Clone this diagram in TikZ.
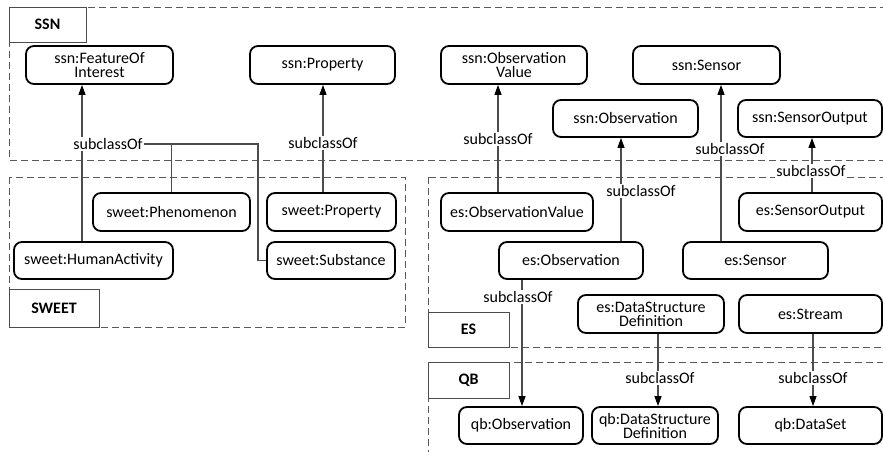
\documentclass[tikz,border=0pt]{standalone}
\usepackage{fontspec}
\setmainfont{Carlito}
\usetikzlibrary{arrows.meta}
\pgfdeclarelayer{back}
\pgfdeclarelayer{mid}
\pgfsetlayers{back,mid,main}

\begin{document}
\begin{tikzpicture}[x=1pt,y=-1pt,
  cls/.style={draw=black, line width=1.8pt, rounded corners=8pt, align=center,
    inner sep=0pt, font=\fontsize{16}{14}\selectfont},
  tag/.style={draw=black!70, line width=0.8pt, fill=white, inner sep=0pt,
    font=\fontsize{16}{19}\selectfont\bfseries},
  lbl/.style={fill=white, inner sep=1pt, font=\fontsize{16}{19}\selectfont},
  zone/.style={draw=black!65, line width=0.9pt, dash pattern=on 7pt off 4pt},
  sub/.style={draw=black!70, line width=1.1pt},
  subarr/.style={sub, -{Triangle[length=10pt,width=7pt,color=black]}},
]
\useasboundingbox (0,0) rectangle (883,452);
\clip (0,0) rectangle (883,452);

% ontology zones and their name tags
\begin{pgfonlayer}{back}
  \draw[zone] (9,7) rectangle (900,160);
  \draw[zone] (9,177) rectangle (405,327);
  \draw[zone] (428,177) rectangle (900,347);
  \draw[zone] (428,362) rectangle (900,470);
  \node[tag, minimum width=77pt, minimum height=35pt] (tssn) at (47.5,24.5) {SSN};
  \node[tag, minimum width=90pt, minimum height=38pt] (tsweet) at (54,308) {SWEET};
  \node[tag, minimum width=81pt, minimum height=35pt] (tes) at (468.5,329.5) {ES};
  \node[tag, minimum width=81pt, minimum height=36pt] (tqb) at (468.5,380) {QB};
\end{pgfonlayer}

% SSN classes
\node[cls, minimum width=147pt, minimum height=38pt] (fo) at (99.5,65) {ssn:FeatureOf\\Interest};
\node[cls, minimum width=145pt, minimum height=38pt] (sp) at (322.5,65) {ssn:Property};
\node[cls, minimum width=146pt, minimum height=38pt] (sov) at (514,65) {ssn:Observation\\Value};
\node[cls, minimum width=147pt, minimum height=38pt] (ssens) at (706.5,65) {ssn:Sensor};
\node[cls, minimum width=145pt, minimum height=37pt] (sobs) at (625.5,118.5) {ssn:Observation};
\node[cls, minimum width=144pt, minimum height=37pt] (sso) at (810,118.5) {ssn:SensorOutput};

% SWEET classes
\node[cls, minimum width=157pt, minimum height=38pt] (phen) at (171.5,212) {sweet:Phenomenon};
\node[cls, minimum width=129pt, minimum height=38pt] (swp) at (331.5,212) {sweet:Property};
\node[cls, minimum width=159pt, minimum height=37pt] (ha) at (93.5,260.5) {sweet:HumanActivity};
\node[cls, minimum width=128pt, minimum height=37pt] (subst) at (331,260.5) {sweet:Substance};

% ES classes
\node[cls, minimum width=152pt, minimum height=38pt] (eov) at (517,212) {es:ObservationValue};
\node[cls, minimum width=143pt, minimum height=38pt] (eso) at (810.5,212) {es:SensorOutput};
\node[cls, minimum width=144pt, minimum height=37pt] (eobs) at (571,260.5) {es:Observation};
\node[cls, minimum width=145pt, minimum height=37pt] (esens) at (755.5,260.5) {es:Sensor};
\node[cls, minimum width=146pt, minimum height=38pt] (edsd) at (651,314) {es:DataStructure\\Definition};
\node[cls, minimum width=143pt, minimum height=38pt] (estr) at (810.5,314) {es:Stream};

% QB classes
\node[cls, minimum width=124pt, minimum height=37pt] (qobs) at (521,425.5) {qb:Observation};
\node[cls, minimum width=126pt, minimum height=37pt] (qdsd) at (655,425.5) {qb:DataStructure\\Definition};
\node[cls, minimum width=143pt, minimum height=37pt] (qds) at (810.5,425.5) {qb:DataSet};

% subclassOf labels
\node[lbl] (l1) at (108,144) {subclassOf};
\node[lbl] (l2) at (323,143) {subclassOf};
\node[lbl] (l3) at (498,139) {subclassOf};
\node[lbl] (l4) at (641,191) {subclassOf};
\node[lbl] (l5) at (730,149) {subclassOf};
\node[lbl] (l6) at (811,171) {subclassOf};
\node[lbl] (l7) at (518,297) {subclassOf};
\node[lbl] (l8) at (660,378) {subclassOf};
\node[lbl] (l9) at (813,378) {subclassOf};

% x positions of the vertical connectors
\coordinate (xa) at (82,0);
\coordinate (xb) at (258,0);
\coordinate (xc) at (323,0);
\coordinate (xd) at (498,0);
\coordinate (xe) at (621,0);
\coordinate (xf) at (721,0);
\coordinate (xg) at (812,0);
\coordinate (xh) at (522,0);
\coordinate (xi) at (658,0);
\coordinate (xj) at (813,0);

% subclassOf connectors
\begin{pgfonlayer}{mid}
  \draw[subarr] (ha.north -| xa) -- (fo.south -| xa);
  \draw[sub] (phen.north) |- (l1.east);
  \draw[sub] (subst.west) -| (l1.east -| xb) -- (l1.east);
  \draw[subarr] (swp.north -| xc) -- (sp.south -| xc);
  \draw[subarr] (eov.north -| xd) -- (sov.south -| xd);
  \draw[subarr] (eobs.north -| xe) -- (sobs.south -| xe);
  \draw[subarr] (esens.north -| xf) -- (ssens.south -| xf);
  \draw[subarr] (eso.north -| xg) -- (sso.south -| xg);
  \draw[subarr] (eobs.south -| xh) -- (qobs.north -| xh);
  \draw[subarr] (edsd.south -| xi) -- (qdsd.north -| xi);
  \draw[subarr] (estr.south -| xj) -- (qds.north -| xj);
\end{pgfonlayer}
\end{tikzpicture}
\end{document}
